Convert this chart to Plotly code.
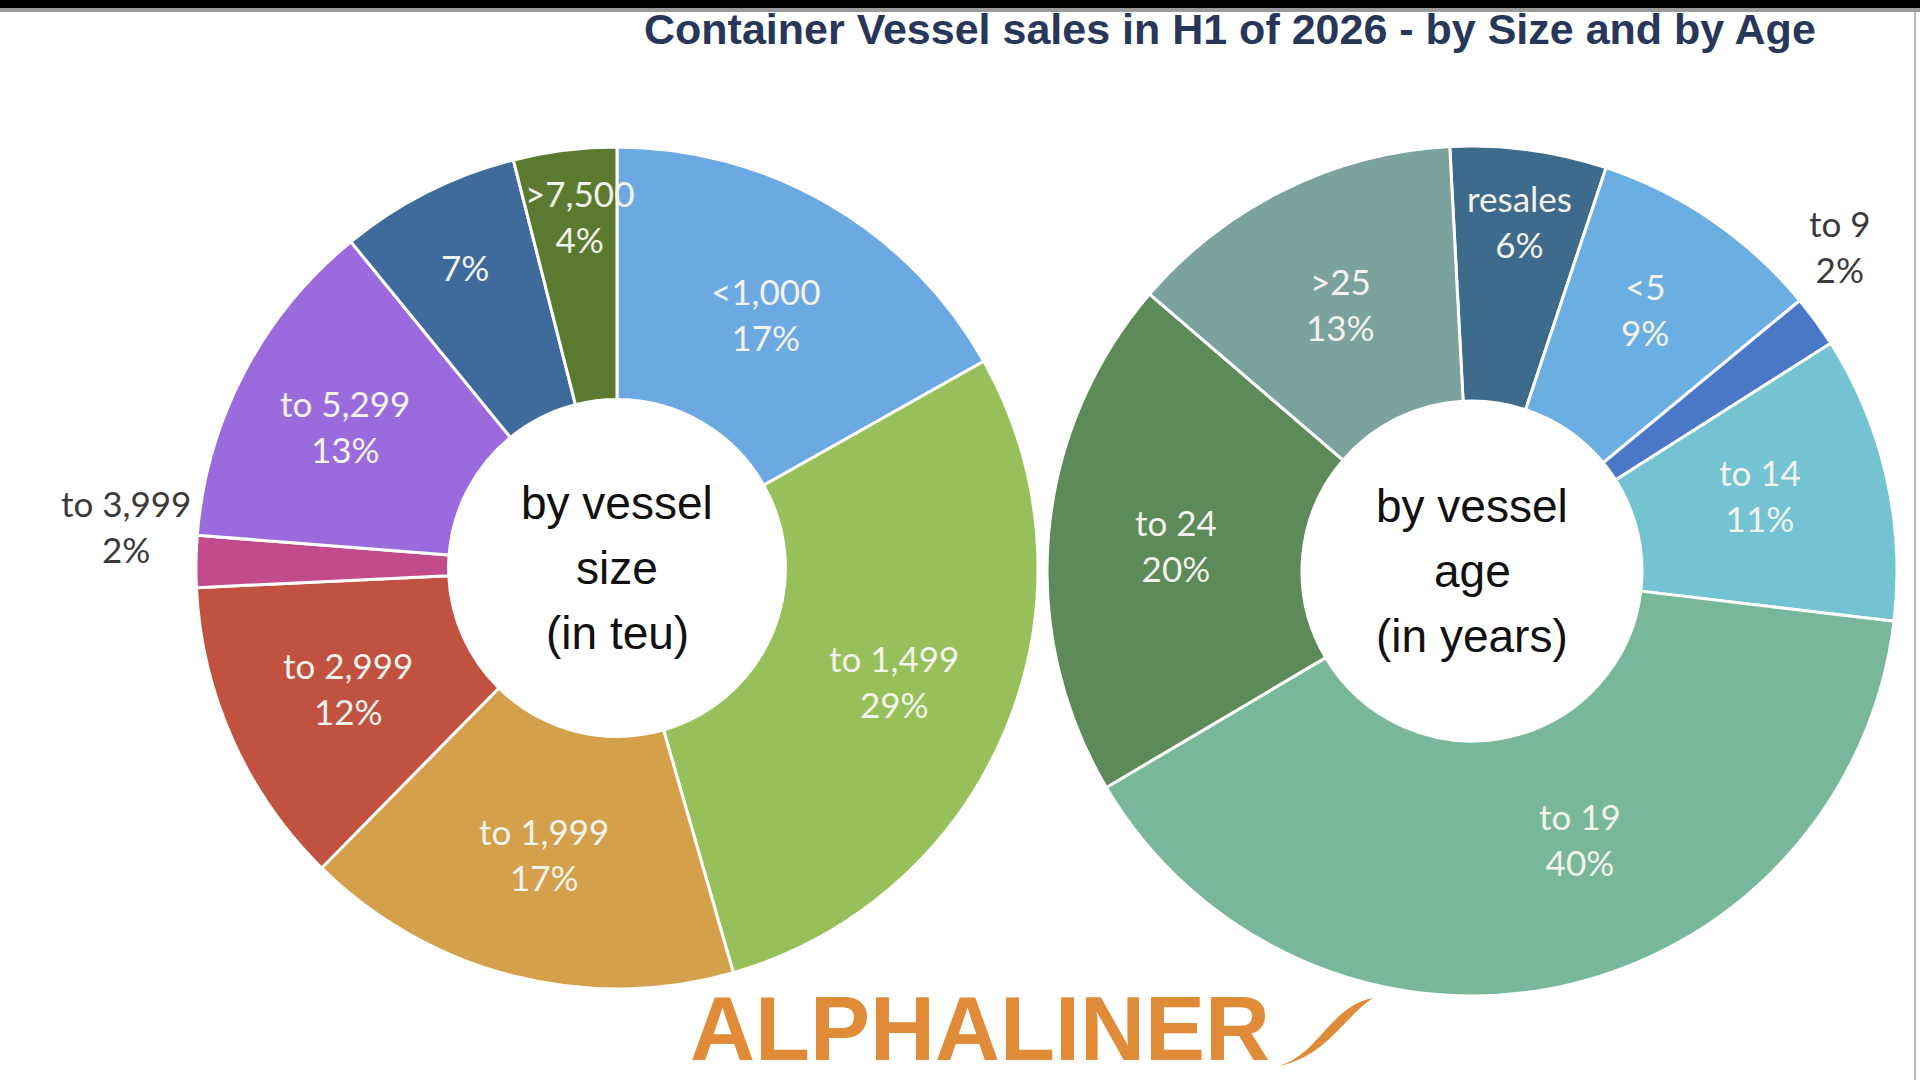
import math
import plotly.graph_objects as go

# ---------------- data ----------------
size_labels = ["<1,000", "to 1,499", "to 1,999", "to 2,999", "to 3,999", "to 5,299", "to 7,499", ">7,500"]
size_names_shown = ["<1,000", "to 1,499", "to 1,999", "to 2,999", "to 3,999", "to 5,299", "", ">7,500"]
size_values = [17, 29, 17, 12, 2, 13, 7, 4]

age_labels = ["resales", "<5", "to 9", "to 14", "to 19", "to 24", ">25"]
age_names_shown = ["resales", "<5", "to 9", "to 14", "to 19", "to 24", ">25"]
age_values = [6, 9, 2, 11, 40, 20, 13]

title_text = "Container Vessel sales in H1 of 2026 - by Size and by Age"
size_center = ["by vessel", "size", "(in teu)"]
age_center = ["by vessel", "age", "(in years)"]

# ---------------- styles ----------------
size_colors = ["#6CA9E3", "#97C05B", "#D4A04C", "#C1523F", "#C24B8B", "#9B6BDD", "#3F6B9C", "#5B7A30"]
age_colors = ["#3E6A8B", "#6AAEE2", "#4A78C6", "#74C3D3", "#79B79A", "#5C8A58", "#7BA29D"]
# label placement: radius as fraction of pie radius, and angular nudge in degrees
size_label_r = [0.70, 0.71, 0.70, 0.70, 1.17, 0.73, 0.80, 0.84]
size_label_da = [0, 0, 0, 0, 4, 0, 0, 1]
age_label_r = [0.83, 0.74, 1.155, 0.70, 0.68, 0.70, 0.70]
age_label_da = [0, -1, -5.5, -2, -10, 0, 0]
size_outside = [False, False, False, False, True, False, False, False]
age_outside = [False, False, True, False, False, False, False]

W, H = 1920, 1080
HOLE = 0.40
# pie geometry in pixels (center x, center y from top, radius)
L_CX, L_CY, L_R = 617, 568, 421
R_CX, R_CY, R_R = 1472, 571, 425
R_ROT = -3


def dom(cx, cy, r):
    return dict(x=[(cx - r) / W, (cx + r) / W], y=[1 - (cy + r) / H, 1 - (cy - r) / H])


fig = go.Figure()
fig.add_trace(go.Pie(
    labels=size_labels, values=size_values, sort=False, direction="clockwise", rotation=0,
    hole=HOLE, domain=dom(L_CX, L_CY, L_R), textinfo="none", showlegend=False,
    marker=dict(colors=size_colors, line=dict(color="white", width=3)),
))
fig.add_trace(go.Pie(
    labels=age_labels, values=age_values, sort=False, direction="clockwise", rotation=R_ROT,
    hole=HOLE, domain=dom(R_CX, R_CY, R_R), textinfo="none", showlegend=False,
    marker=dict(colors=age_colors, line=dict(color="white", width=3)),
))

annotations = []
LABEL_FONT = "Lato, 'Open Sans', sans-serif"


def add_labels(names, values, radii, nudges, outside, cx, cy, R, rot):
    total = sum(values)
    cum = 0
    for name, v, rf, da, out in zip(names, values, radii, nudges, outside):
        mid = rot + 360.0 * (cum + v / 2.0) / total + da
        cum += v
        a = math.radians(mid)
        x = cx + rf * R * math.sin(a)
        y = cy - rf * R * math.cos(a)
        txt = f"{v}%" if not name else f"{name}<br>{v}%"
        annotations.append(dict(
            x=x / W, y=1 - y / H, xref="paper", yref="paper", text=txt, showarrow=False,
            xanchor="center", yanchor="middle", align="center",
            font=dict(family=LABEL_FONT, size=35, color="#3a3a3a" if out else "#F3F3EE"),
        ))


add_labels(size_names_shown, size_values, size_label_r, size_label_da, size_outside, L_CX, L_CY, L_R, 0)
add_labels(age_names_shown, age_values, age_label_r, age_label_da, age_outside, R_CX, R_CY, R_R, R_ROT)

# center texts
for lines, cx, cy in [(size_center, L_CX, L_CY), (age_center, R_CX, R_CY)]:
    for i, ln in enumerate(lines):
        y = cy + (i - 1) * 65
        annotations.append(dict(
            x=cx / W, y=1 - y / H, xref="paper", yref="paper", text=ln, showarrow=False,
            xanchor="center", yanchor="middle",
            font=dict(family="'Liberation Sans', Arial, sans-serif", size=46, color="#111111"),
        ))

# title
annotations.append(dict(
    x=1818 / W, y=1 - 29 / H, xref="paper", yref="paper", text=f"<b>{title_text}</b>",
    showarrow=False, xanchor="right", yanchor="middle",
    font=dict(family="'Liberation Sans', Arial, sans-serif", size=43, color="#283759"),
))
# logo
annotations.append(dict(
    x=980 / W, y=0, xref="paper", yref="paper", text="<b>ALPHALINER</b>",
    showarrow=False, xanchor="center", yanchor="bottom", borderpad=0,
    font=dict(family="'Liberation Sans', Arial, sans-serif", size=90, color="#E08B38"),
))


def px(x, y):
    return f"{x / W:.5f},{1 - y / H:.5f}"


shapes = [
    dict(type="line", xref="paper", yref="paper", x0=1915 / W, x1=1915 / W, y0=0, y1=1,
         line=dict(color="#b8b8b8", width=2)),
    dict(type="rect", xref="paper", yref="paper", x0=0, x1=1, y0=1 - 8 / H, y1=1,
         fillcolor="black", line=dict(width=0), layer="above"),
    dict(type="rect", xref="paper", yref="paper", x0=0, x1=1, y0=1 - 12 / H, y1=1 - 8 / H,
         fillcolor="#9a9a9a", line=dict(width=0), layer="above"),
    dict(type="path", xref="paper", yref="paper",
         path=(f"M {px(1278, 1066)} C {px(1318, 1056)} {px(1330, 1006)} {px(1373, 998)} "
               f"C {px(1345, 1016)} {px(1325, 1058)} {px(1278, 1066)} Z"),
         fillcolor="#E08B38", line=dict(width=0)),
]

fig.update_layout(
    width=W, height=H, margin=dict(l=0, r=0, t=0, b=0),
    paper_bgcolor="white", plot_bgcolor="white",
    annotations=annotations, shapes=shapes, showlegend=False,
)

fig.write_html("out.html")
